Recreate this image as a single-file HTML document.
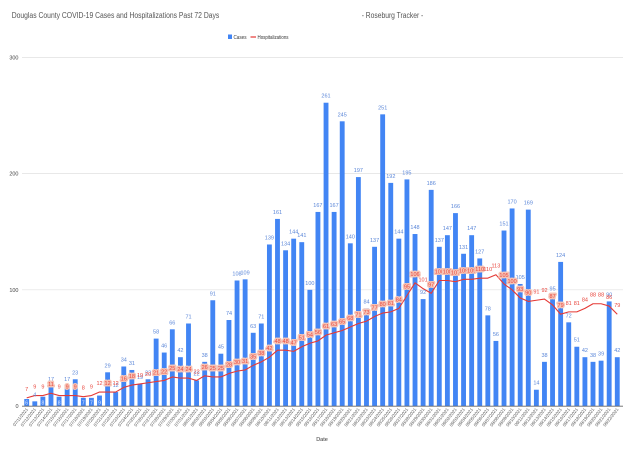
<!DOCTYPE html>
<html>
<head>
<meta charset="utf-8">
<style>
html,body{margin:0;padding:0;background:#fff;}
svg{display:block;font-family:"Liberation Sans",Arial,sans-serif;}
.cl{font-size:5.5px;fill:#5a86d8;text-anchor:middle;}
.ci{font-size:5px;fill:#e8eefc;text-anchor:middle;}
.hl{font-size:5.5px;fill:#e8453c;text-anchor:middle;}
.hb{stroke:#f6c4b6;stroke-width:3;paint-order:stroke;stroke-linejoin:round;}
.yl{font-size:5.5px;fill:#444;text-anchor:end;}
.xl text{font-size:4.4px;fill:#555;text-anchor:end;}
</style>
</head>
<body>
<svg width="640" height="450" viewBox="0 0 640 450" xmlns="http://www.w3.org/2000/svg">
<rect x="0" y="0" width="640" height="450" fill="#fff"/>
<!-- titles -->
<text x="11.7" y="18" font-size="8" fill="#555" textLength="207.6" lengthAdjust="spacingAndGlyphs">Douglas County COVID-19 Cases and Hospitalizations Past 72 Days</text>
<text x="361.7" y="18" font-size="8" fill="#555" textLength="61.6" lengthAdjust="spacingAndGlyphs">- Roseburg Tracker -</text>
<!-- legend -->
<rect x="228" y="34.5" width="4" height="4.5" fill="#4285f4"/>
<text x="233.5" y="39" font-size="5" fill="#333" textLength="13" lengthAdjust="spacingAndGlyphs">Cases</text>
<line x1="250.5" y1="37" x2="256" y2="37" stroke="#e53935" stroke-width="1.2"/>
<text x="257.5" y="39" font-size="5" fill="#333" textLength="31" lengthAdjust="spacingAndGlyphs">Hospitalizations</text>
<!-- gridlines -->
<g stroke="#e0e0e0" stroke-width="0.7">
<line x1="22" y1="57.4" x2="623" y2="57.4"/>
<line x1="22" y1="173.6" x2="623" y2="173.6"/>
<line x1="22" y1="289.8" x2="623" y2="289.8"/>
</g>
<text class="yl" x="18.5" y="59.4">300</text>
<text class="yl" x="18.5" y="175.6">200</text>
<text class="yl" x="18.5" y="291.8">100</text>
<text class="yl" x="18.5" y="408">0</text>
<!-- bars -->
<g transform="translate(22.655 406) scale(8.09 -1.162)" fill="#4285f4">
<rect x="0.2" y="0" width="0.6" height="6"/>
<rect x="1.2" y="0" width="0.6" height="4"/>
<rect x="2.2" y="0" width="0.6" height="8"/>
<rect x="3.2" y="0" width="0.6" height="17"/>
<rect x="4.2" y="0" width="0.6" height="8"/>
<rect x="5.2" y="0" width="0.6" height="17"/>
<rect x="6.2" y="0" width="0.6" height="23"/>
<rect x="7.2" y="0" width="0.6" height="7"/>
<rect x="8.2" y="0" width="0.6" height="7"/>
<rect x="9.2" y="0" width="0.6" height="9"/>
<rect x="10.2" y="0" width="0.6" height="29"/>
<rect x="11.2" y="0" width="0.6" height="12"/>
<rect x="12.2" y="0" width="0.6" height="34"/>
<rect x="13.2" y="0" width="0.6" height="31"/>
<rect x="14.2" y="0" width="0.6" height="19"/>
<rect x="15.2" y="0" width="0.6" height="23"/>
<rect x="16.2" y="0" width="0.6" height="58"/>
<rect x="17.2" y="0" width="0.6" height="46"/>
<rect x="18.2" y="0" width="0.6" height="66"/>
<rect x="19.2" y="0" width="0.6" height="42"/>
<rect x="20.2" y="0" width="0.6" height="71"/>
<rect x="21.2" y="0" width="0.6" height="22"/>
<rect x="22.2" y="0" width="0.6" height="38"/>
<rect x="23.2" y="0" width="0.6" height="91"/>
<rect x="24.2" y="0" width="0.6" height="45"/>
<rect x="25.2" y="0" width="0.6" height="74"/>
<rect x="26.2" y="0" width="0.6" height="108"/>
<rect x="27.2" y="0" width="0.6" height="109"/>
<rect x="28.2" y="0" width="0.6" height="63"/>
<rect x="29.2" y="0" width="0.6" height="71"/>
<rect x="30.2" y="0" width="0.6" height="139"/>
<rect x="31.2" y="0" width="0.6" height="161"/>
<rect x="32.2" y="0" width="0.6" height="134"/>
<rect x="33.2" y="0" width="0.6" height="144"/>
<rect x="34.2" y="0" width="0.6" height="141"/>
<rect x="35.2" y="0" width="0.6" height="100"/>
<rect x="36.2" y="0" width="0.6" height="167"/>
<rect x="37.2" y="0" width="0.6" height="261"/>
<rect x="38.2" y="0" width="0.6" height="167"/>
<rect x="39.2" y="0" width="0.6" height="245"/>
<rect x="40.2" y="0" width="0.6" height="140"/>
<rect x="41.2" y="0" width="0.6" height="197"/>
<rect x="42.2" y="0" width="0.6" height="84"/>
<rect x="43.2" y="0" width="0.6" height="137"/>
<rect x="44.2" y="0" width="0.6" height="251"/>
<rect x="45.2" y="0" width="0.6" height="192"/>
<rect x="46.2" y="0" width="0.6" height="144"/>
<rect x="47.2" y="0" width="0.6" height="195"/>
<rect x="48.2" y="0" width="0.6" height="148"/>
<rect x="49.2" y="0" width="0.6" height="92"/>
<rect x="50.2" y="0" width="0.6" height="186"/>
<rect x="51.2" y="0" width="0.6" height="137"/>
<rect x="52.2" y="0" width="0.6" height="147"/>
<rect x="53.2" y="0" width="0.6" height="166"/>
<rect x="54.2" y="0" width="0.6" height="131"/>
<rect x="55.2" y="0" width="0.6" height="147"/>
<rect x="56.2" y="0" width="0.6" height="127"/>
<rect x="57.2" y="0" width="0.6" height="78"/>
<rect x="58.2" y="0" width="0.6" height="56"/>
<rect x="59.2" y="0" width="0.6" height="151"/>
<rect x="60.2" y="0" width="0.6" height="170"/>
<rect x="61.2" y="0" width="0.6" height="105"/>
<rect x="62.2" y="0" width="0.6" height="169"/>
<rect x="63.2" y="0" width="0.6" height="14"/>
<rect x="64.2" y="0" width="0.6" height="38"/>
<rect x="65.2" y="0" width="0.6" height="95"/>
<rect x="66.2" y="0" width="0.6" height="124"/>
<rect x="67.2" y="0" width="0.6" height="72"/>
<rect x="68.2" y="0" width="0.6" height="51"/>
<rect x="69.2" y="0" width="0.6" height="42"/>
<rect x="70.2" y="0" width="0.6" height="38"/>
<rect x="71.2" y="0" width="0.6" height="39"/>
<rect x="72.2" y="0" width="0.6" height="90"/>
<rect x="73.2" y="0" width="0.6" height="42"/>
<polyline fill="none" stroke="#e53935" stroke-width="1.1" vector-effect="non-scaling-stroke" stroke-linejoin="round" points="0.5,7 1.5,9 2.5,9 3.5,11 4.5,9 5.5,9 6.5,9 7.5,8 8.5,9 9.5,12 10.5,12 11.5,12 12.5,16 13.5,18 14.5,19 15.5,20 16.5,21 17.5,22 18.5,25 19.5,24 20.5,24 21.5,22 22.5,26 23.5,25 24.5,25 25.5,28 26.5,30 27.5,31 28.5,35 29.5,38 30.5,42 31.5,48 32.5,48 33.5,47 34.5,51 35.5,54 36.5,56 37.5,61 38.5,63 39.5,65 40.5,68 41.5,71 42.5,73 43.5,77 44.5,80 45.5,81 46.5,84 47.5,95 48.5,106 49.5,101 50.5,97 51.5,108 52.5,108 53.5,107 54.5,109 55.5,109 56.5,110 57.5,110 58.5,113 59.5,105 60.5,100 61.5,93 62.5,90 63.5,91 64.5,92 65.5,87 66.5,79 67.5,81 68.5,81 69.5,84 70.5,88 71.5,88 72.5,86 73.5,79"/>
</g>
<!-- axis baseline -->
<line x1="22" y1="406.2" x2="623" y2="406.2" stroke="#666" stroke-width="0.8"/>
<!-- case labels -->
<text class="ci" x="26.7" y="404.5">6</text>
<text class="cl" x="34.8" y="396.4">4</text>
<text class="ci" x="42.9" y="404.5">8</text>
<text class="cl" x="51.0" y="381.2">17</text>
<text class="ci" x="59.1" y="404.5">8</text>
<text class="cl" x="67.2" y="381.2">17</text>
<text class="cl" x="75.2" y="374.3">23</text>
<text class="ci" x="83.3" y="404.5">7</text>
<text class="ci" x="91.4" y="404.5">7</text>
<text class="ci" x="99.5" y="404.5">9</text>
<text class="cl" x="107.6" y="367.3">29</text>
<text class="cl" x="115.7" y="387.1">12</text>
<text class="cl" x="123.8" y="361.5">34</text>
<text class="cl" x="131.9" y="365.0">31</text>
<text class="cl" x="140.0" y="378.9">19</text>
<text class="cl" x="148.1" y="374.3">23</text>
<text class="cl" x="156.1" y="333.6">58</text>
<text class="cl" x="164.2" y="347.5">46</text>
<text class="cl" x="172.3" y="324.3">66</text>
<text class="cl" x="180.4" y="352.2">42</text>
<text class="cl" x="188.5" y="318.5">71</text>
<text class="cl" x="196.6" y="375.4">22</text>
<text class="cl" x="204.7" y="356.8">38</text>
<text class="cl" x="212.8" y="295.3">91</text>
<text class="cl" x="220.9" y="348.7">45</text>
<text class="cl" x="229.0" y="315.0">74</text>
<text class="cl" x="237.0" y="275.5">108</text>
<text class="cl" x="245.1" y="274.3">109</text>
<text class="cl" x="253.2" y="327.8">63</text>
<text class="cl" x="261.3" y="318.5">71</text>
<text class="cl" x="269.4" y="239.5">139</text>
<text class="cl" x="277.5" y="213.9">161</text>
<text class="cl" x="285.6" y="245.3">134</text>
<text class="cl" x="293.7" y="233.7">144</text>
<text class="cl" x="301.8" y="237.2">141</text>
<text class="cl" x="309.9" y="284.8">100</text>
<text class="cl" x="317.9" y="207.0">167</text>
<text class="cl" x="326.0" y="97.7">261</text>
<text class="cl" x="334.1" y="207.0">167</text>
<text class="cl" x="342.2" y="116.3">245</text>
<text class="cl" x="350.3" y="238.3">140</text>
<text class="cl" x="358.4" y="172.1">197</text>
<text class="cl" x="366.5" y="303.4">84</text>
<text class="cl" x="374.6" y="241.8">137</text>
<text class="cl" x="382.7" y="109.3">251</text>
<text class="cl" x="390.8" y="177.9">192</text>
<text class="cl" x="398.8" y="233.7">144</text>
<text class="cl" x="406.9" y="174.4">195</text>
<text class="cl" x="415.0" y="229.0">148</text>
<text class="cl" x="423.1" y="294.1">92</text>
<text class="cl" x="431.2" y="184.9">186</text>
<text class="cl" x="439.3" y="241.8">137</text>
<text class="cl" x="447.4" y="230.2">147</text>
<text class="cl" x="455.5" y="208.1">166</text>
<text class="cl" x="463.6" y="248.8">131</text>
<text class="cl" x="471.7" y="230.2">147</text>
<text class="cl" x="479.7" y="253.4">127</text>
<text class="cl" x="487.8" y="310.4">78</text>
<text class="cl" x="495.9" y="335.9">56</text>
<text class="cl" x="504.0" y="225.5">151</text>
<text class="cl" x="512.1" y="203.5">170</text>
<text class="cl" x="520.2" y="279.0">105</text>
<text class="cl" x="528.3" y="204.6">169</text>
<text class="cl" x="536.4" y="384.7">14</text>
<text class="cl" x="544.5" y="356.8">38</text>
<text class="cl" x="552.6" y="290.6">95</text>
<text class="cl" x="560.6" y="256.9">124</text>
<text class="cl" x="568.7" y="317.3">72</text>
<text class="cl" x="576.8" y="341.7">51</text>
<text class="cl" x="584.9" y="352.2">42</text>
<text class="cl" x="593.0" y="356.8">38</text>
<text class="cl" x="601.1" y="355.7">39</text>
<text class="cl" x="609.2" y="296.4">90</text>
<text class="cl" x="617.3" y="352.2">42</text>
<!-- hospitalization labels -->
<text class="hl" x="26.7" y="390.9">7</text>
<text class="hl" x="34.8" y="388.5">9</text>
<text class="hl" x="42.9" y="388.5">9</text>
<text class="hl hb" x="51.0" y="386.2">11</text>
<text class="hl" x="59.1" y="388.5">9</text>
<text class="hl hb" x="67.2" y="388.5">9</text>
<text class="hl hb" x="75.2" y="388.5">9</text>
<text class="hl" x="83.3" y="389.7">8</text>
<text class="hl" x="91.4" y="388.5">9</text>
<text class="hl" x="99.5" y="385.1">12</text>
<text class="hl hb" x="107.6" y="385.1">12</text>
<text class="hl" x="115.7" y="385.1">12</text>
<text class="hl hb" x="123.8" y="380.4">16</text>
<text class="hl hb" x="131.9" y="378.1">18</text>
<text class="hl" x="140.0" y="376.9">19</text>
<text class="hl" x="148.1" y="375.8">20</text>
<text class="hl hb" x="156.1" y="374.6">21</text>
<text class="hl hb" x="164.2" y="373.4">22</text>
<text class="hl hb" x="172.3" y="370.0">25</text>
<text class="hl hb" x="180.4" y="371.1">24</text>
<text class="hl hb" x="188.5" y="371.1">24</text>
<text class="hl" x="196.6" y="373.4">22</text>
<text class="hl hb" x="204.7" y="368.8">26</text>
<text class="hl hb" x="212.8" y="370.0">25</text>
<text class="hl hb" x="220.9" y="370.0">25</text>
<text class="hl hb" x="229.0" y="366.5">28</text>
<text class="hl hb" x="237.0" y="364.1">30</text>
<text class="hl hb" x="245.1" y="363.0">31</text>
<text class="hl hb" x="253.2" y="358.3">35</text>
<text class="hl hb" x="261.3" y="354.8">38</text>
<text class="hl hb" x="269.4" y="350.2">42</text>
<text class="hl hb" x="277.5" y="343.2">48</text>
<text class="hl hb" x="285.6" y="343.2">48</text>
<text class="hl hb" x="293.7" y="344.4">47</text>
<text class="hl hb" x="301.8" y="339.7">51</text>
<text class="hl hb" x="309.9" y="336.3">54</text>
<text class="hl hb" x="317.9" y="333.9">56</text>
<text class="hl hb" x="326.0" y="328.1">61</text>
<text class="hl hb" x="334.1" y="325.8">63</text>
<text class="hl hb" x="342.2" y="323.5">65</text>
<text class="hl hb" x="350.3" y="320.0">68</text>
<text class="hl hb" x="358.4" y="316.5">71</text>
<text class="hl hb" x="366.5" y="314.2">73</text>
<text class="hl hb" x="374.6" y="309.5">77</text>
<text class="hl hb" x="382.7" y="306.0">80</text>
<text class="hl hb" x="390.8" y="304.9">81</text>
<text class="hl hb" x="398.8" y="301.4">84</text>
<text class="hl hb" x="406.9" y="288.6">95</text>
<text class="hl hb" x="415.0" y="275.8">106</text>
<text class="hl" x="423.1" y="281.6">101</text>
<text class="hl hb" x="431.2" y="286.3">97</text>
<text class="hl hb" x="439.3" y="273.5">108</text>
<text class="hl hb" x="447.4" y="273.5">108</text>
<text class="hl hb" x="455.5" y="274.7">107</text>
<text class="hl hb" x="463.6" y="272.3">109</text>
<text class="hl hb" x="471.7" y="272.3">109</text>
<text class="hl hb" x="479.7" y="271.2">110</text>
<text class="hl" x="487.8" y="271.2">110</text>
<text class="hl" x="495.9" y="267.7">113</text>
<text class="hl hb" x="504.0" y="277.0">105</text>
<text class="hl hb" x="512.1" y="282.8">100</text>
<text class="hl hb" x="520.2" y="290.9">93</text>
<text class="hl hb" x="528.3" y="294.4">90</text>
<text class="hl" x="536.4" y="293.3">91</text>
<text class="hl" x="544.5" y="292.1">92</text>
<text class="hl hb" x="552.6" y="297.9">87</text>
<text class="hl hb" x="560.6" y="307.2">79</text>
<text class="hl" x="568.7" y="304.9">81</text>
<text class="hl" x="576.8" y="304.9">81</text>
<text class="hl" x="584.9" y="301.4">84</text>
<text class="hl" x="593.0" y="296.7">88</text>
<text class="hl" x="601.1" y="296.7">88</text>
<text class="hl" x="609.2" y="299.1">86</text>
<text class="hl" x="617.3" y="307.2">79</text>
<!-- x labels -->
<g class="xl">
<text transform="translate(28.2 409.5) rotate(-52)">07/11/2021</text>
<text transform="translate(36.3 409.5) rotate(-52)">07/12/2021</text>
<text transform="translate(44.4 409.5) rotate(-52)">07/13/2021</text>
<text transform="translate(52.5 409.5) rotate(-52)">07/14/2021</text>
<text transform="translate(60.6 409.5) rotate(-52)">07/15/2021</text>
<text transform="translate(68.7 409.5) rotate(-52)">07/16/2021</text>
<text transform="translate(76.7 409.5) rotate(-52)">07/17/2021</text>
<text transform="translate(84.8 409.5) rotate(-52)">07/18/2021</text>
<text transform="translate(92.9 409.5) rotate(-52)">07/19/2021</text>
<text transform="translate(101.0 409.5) rotate(-52)">07/20/2021</text>
<text transform="translate(109.1 409.5) rotate(-52)">07/21/2021</text>
<text transform="translate(117.2 409.5) rotate(-52)">07/22/2021</text>
<text transform="translate(125.3 409.5) rotate(-52)">07/23/2021</text>
<text transform="translate(133.4 409.5) rotate(-52)">07/24/2021</text>
<text transform="translate(141.5 409.5) rotate(-52)">07/25/2021</text>
<text transform="translate(149.6 409.5) rotate(-52)">07/26/2021</text>
<text transform="translate(157.6 409.5) rotate(-52)">07/27/2021</text>
<text transform="translate(165.7 409.5) rotate(-52)">07/28/2021</text>
<text transform="translate(173.8 409.5) rotate(-52)">07/29/2021</text>
<text transform="translate(181.9 409.5) rotate(-52)">07/30/2021</text>
<text transform="translate(190.0 409.5) rotate(-52)">07/31/2021</text>
<text transform="translate(198.1 409.5) rotate(-52)">08/01/2021</text>
<text transform="translate(206.2 409.5) rotate(-52)">08/02/2021</text>
<text transform="translate(214.3 409.5) rotate(-52)">08/03/2021</text>
<text transform="translate(222.4 409.5) rotate(-52)">08/04/2021</text>
<text transform="translate(230.5 409.5) rotate(-52)">08/05/2021</text>
<text transform="translate(238.5 409.5) rotate(-52)">08/06/2021</text>
<text transform="translate(246.6 409.5) rotate(-52)">08/07/2021</text>
<text transform="translate(254.7 409.5) rotate(-52)">08/08/2021</text>
<text transform="translate(262.8 409.5) rotate(-52)">08/09/2021</text>
<text transform="translate(270.9 409.5) rotate(-52)">08/10/2021</text>
<text transform="translate(279.0 409.5) rotate(-52)">08/11/2021</text>
<text transform="translate(287.1 409.5) rotate(-52)">08/12/2021</text>
<text transform="translate(295.2 409.5) rotate(-52)">08/13/2021</text>
<text transform="translate(303.3 409.5) rotate(-52)">08/14/2021</text>
<text transform="translate(311.4 409.5) rotate(-52)">08/15/2021</text>
<text transform="translate(319.4 409.5) rotate(-52)">08/16/2021</text>
<text transform="translate(327.5 409.5) rotate(-52)">08/17/2021</text>
<text transform="translate(335.6 409.5) rotate(-52)">08/18/2021</text>
<text transform="translate(343.7 409.5) rotate(-52)">08/19/2021</text>
<text transform="translate(351.8 409.5) rotate(-52)">08/20/2021</text>
<text transform="translate(359.9 409.5) rotate(-52)">08/21/2021</text>
<text transform="translate(368.0 409.5) rotate(-52)">08/22/2021</text>
<text transform="translate(376.1 409.5) rotate(-52)">08/23/2021</text>
<text transform="translate(384.2 409.5) rotate(-52)">08/24/2021</text>
<text transform="translate(392.3 409.5) rotate(-52)">08/25/2021</text>
<text transform="translate(400.3 409.5) rotate(-52)">08/26/2021</text>
<text transform="translate(408.4 409.5) rotate(-52)">08/27/2021</text>
<text transform="translate(416.5 409.5) rotate(-52)">08/28/2021</text>
<text transform="translate(424.6 409.5) rotate(-52)">08/29/2021</text>
<text transform="translate(432.7 409.5) rotate(-52)">08/30/2021</text>
<text transform="translate(440.8 409.5) rotate(-52)">08/31/2021</text>
<text transform="translate(448.9 409.5) rotate(-52)">09/01/2021</text>
<text transform="translate(457.0 409.5) rotate(-52)">09/02/2021</text>
<text transform="translate(465.1 409.5) rotate(-52)">09/03/2021</text>
<text transform="translate(473.2 409.5) rotate(-52)">09/04/2021</text>
<text transform="translate(481.2 409.5) rotate(-52)">09/05/2021</text>
<text transform="translate(489.3 409.5) rotate(-52)">09/06/2021</text>
<text transform="translate(497.4 409.5) rotate(-52)">09/07/2021</text>
<text transform="translate(505.5 409.5) rotate(-52)">09/08/2021</text>
<text transform="translate(513.6 409.5) rotate(-52)">09/09/2021</text>
<text transform="translate(521.7 409.5) rotate(-52)">09/10/2021</text>
<text transform="translate(529.8 409.5) rotate(-52)">09/11/2021</text>
<text transform="translate(537.9 409.5) rotate(-52)">09/12/2021</text>
<text transform="translate(546.0 409.5) rotate(-52)">09/13/2021</text>
<text transform="translate(554.1 409.5) rotate(-52)">09/14/2021</text>
<text transform="translate(562.1 409.5) rotate(-52)">09/15/2021</text>
<text transform="translate(570.2 409.5) rotate(-52)">09/16/2021</text>
<text transform="translate(578.3 409.5) rotate(-52)">09/17/2021</text>
<text transform="translate(586.4 409.5) rotate(-52)">09/18/2021</text>
<text transform="translate(594.5 409.5) rotate(-52)">09/19/2021</text>
<text transform="translate(602.6 409.5) rotate(-52)">09/20/2021</text>
<text transform="translate(610.7 409.5) rotate(-52)">09/21/2021</text>
<text transform="translate(618.8 409.5) rotate(-52)">09/22/2021</text>
</g>
<text x="322" y="441" font-size="5.5" fill="#333" text-anchor="middle">Date</text>
</svg>
</body>
</html>
